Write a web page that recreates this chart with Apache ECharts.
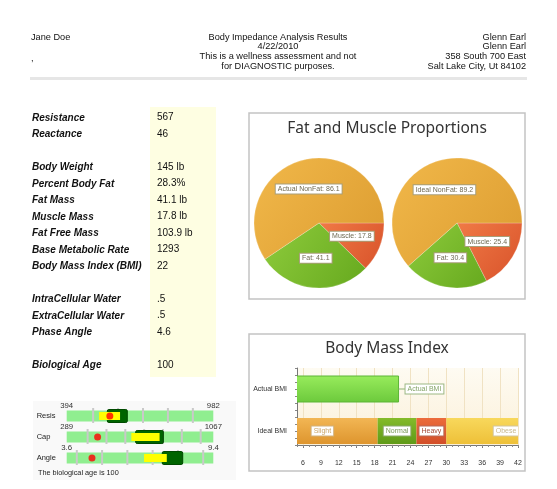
<!DOCTYPE html>
<html><head><meta charset="utf-8">
<script src="https://cdn.jsdelivr.net/npm/echarts@6/dist/echarts.min.js"></script>
<style>html,body{margin:0;padding:0;background:#fff}#c{width:557px;height:489px}</style>
</head><body><div id="c"></div>
<script>
// ---------- data ----------
const headerLeft = ['Jane Doe', ','];
const headerCenter = ['Body Impedance Analysis Results', '4/22/2010', 'This is a wellness assessment and not', 'for DIAGNOSTIC purposes.'];
const headerRight = ['Glenn Earl', 'Glenn Earl', '358 South 700 East', 'Salt Lake City, Ut 84102'];

const tableLabels = ['Resistance', 'Reactance', '', 'Body Weight', 'Percent Body Fat', 'Fat Mass', 'Muscle Mass', 'Fat Free Mass', 'Base Metabolic Rate', 'Body Mass Index (BMI)', '', 'IntraCellular Water', 'ExtraCellular Water', 'Phase Angle', '', 'Biological Age'];
const tableValues = ['567', '46', '', '145 lb', '28.3%', '41.1 lb', '17.8 lb', '103.9 lb', '1293', '22', '', '.5', '.5', '4.6', '', '100'];

const pieTitle = 'Fat and Muscle Proportions';
const actualNames = ['Muscle', 'Fat', 'Actual NonFat'];
const actualValues = [17.8, 41.1, 86.1];
const idealNames = ['Muscle', 'Fat', 'Ideal NonFat'];
const idealValues = [25.4, 30.4, 89.2];

const bmiTitle = 'Body Mass Index';
const bmiCategories = ['Actual BMI', 'Ideal BMI'];
const actualBmi = 22;
const idealRangeNames = ['Slight', 'Normal', 'Heavy', 'Obese'];
const idealRangeBounds = [0, 18.5, 25, 30, 50];
const bmiTickLabels = [6, 9, 12, 15, 18, 21, 24, 27, 30, 33, 36, 39, 42];

const gaugeNames = ['Resis', 'Cap', 'Angle'];
const gaugeMin = [394, 289, 3.6];
const gaugeMax = [982, 1067, 9.4];
const gaugeTicks = [[500, 600, 700, 800, 900], [400, 500, 600, 700, 800, 900, 1000], [4, 5, 6, 7, 8, 9]];
const gaugeTarget = [[557, 637], [655, 802], [7.38, 8.19]];
const gaugeYellow = [[524, 608], [632, 782], [6.66, 7.56]];
const gaugeActual = [567, 453, 4.6];
const bioAgeText = 'The biological age is 100';

// ---------- build ----------
const chart = echarts.init(document.getElementById('c'), null, {renderer: 'canvas'});
const LG = (c1, c2, x2, y2) => new echarts.graphic.LinearGradient(0, 0, x2 === undefined ? 0 : x2, y2 === undefined ? 1 : y2, [{offset: 0, color: c1}, {offset: 1, color: c2}]);
const SANS = 'Liberation Sans, Arial, sans-serif';
const UI = 'Noto Sans, Open Sans, sans-serif';

const graphic = [];
// header
graphic.push({type: 'rect', shape: {x: 30, y: 77, width: 497, height: 3}, style: {fill: '#e6e6e6'}, z: -5});
headerLeft.forEach((t, i) => graphic.push({type: 'text', x: 31, y: 37 + i * 21, style: {text: t, font: '9.2px ' + SANS, fill: '#111', verticalAlign: 'middle'}}));
headerCenter.forEach((t, i) => graphic.push({type: 'text', x: 278, y: 37 + i * 9.7, style: {text: t, font: '9.2px ' + SANS, fill: '#111', align: 'center', verticalAlign: 'middle'}}));
headerRight.forEach((t, i) => graphic.push({type: 'text', x: 526, y: 37 + i * 9.7, style: {text: t, font: '9.2px ' + SANS, fill: '#111', align: 'right', verticalAlign: 'middle'}}));
// table
graphic.push({type: 'rect', shape: {x: 150, y: 107, width: 66, height: 270}, style: {fill: '#fefee2'}, z: -5});
tableLabels.forEach((t, i) => {
  if (!t) return;
  graphic.push({type: 'text', x: 32, y: 118 + i * 16.5, style: {text: t, font: 'italic bold 10px ' + SANS, fill: '#111', verticalAlign: 'middle'}});
  graphic.push({type: 'text', x: 157, y: 117.5 + i * 16.5, style: {text: tableValues[i], font: '10px ' + SANS, fill: '#111', verticalAlign: 'middle'}});
});
// panels
graphic.push({type: 'rect', shape: {x: 249, y: 113, width: 276, height: 186}, style: {fill: '#fff', stroke: '#c3c3c3', lineWidth: 1.5}, z: -5});
graphic.push({type: 'text', x: 387, y: 129, style: {text: pieTitle, font: '15.5px ' + UI, fill: '#333', align: 'center', verticalAlign: 'middle'}});
graphic.push({type: 'rect', shape: {x: 249, y: 334, width: 276, height: 137}, style: {fill: '#fff', stroke: '#c3c3c3', lineWidth: 1.5}, z: -5});
graphic.push({type: 'text', x: 387, y: 349, style: {text: bmiTitle, font: '15.5px ' + UI, fill: '#333', align: 'center', verticalAlign: 'middle'}});
graphic.push({type: 'rect', shape: {x: 33, y: 401, width: 203, height: 79}, style: {fill: '#f9f9f9'}, z: -5});
graphic.push({type: 'text', x: 38, y: 473, style: {text: bioAgeText, font: '7.3px ' + SANS, fill: '#222', verticalAlign: 'middle'}});

const grid = [], xAxis = [], yAxis = [], series = [];

// ---- pies ----
const pieColors = {
  'Muscle': LG('#f07a46', '#d8522a', 1, 1),
  'Fat': LG('#8ecb3c', '#66a91e', 1, 1),
  'NonFat': LG('#f1b84a', '#dc9c30', 1, 1)
};
const pieLabel = {show: true, position: 'inside', formatter: '{b}: {c}', fontSize: 7, fontFamily: SANS, color: '#6f6a52',
  backgroundColor: '#fff', borderColor: '#a89e78', borderWidth: 1, padding: [1, 2, 1, 2]};
function pieSeries(names, values, cx) {
  return {type: 'pie', center: [cx, 223], radius: 65, startAngle: 0, clockwise: true, silent: true,
    label: pieLabel, labelLine: {show: false}, emphasis: {disabled: true},
    itemStyle: {borderColor: 'rgba(255,255,255,0.35)', borderWidth: 0.6},
    data: names.map((n, i) => ({name: n, value: values[i], itemStyle: {color: pieColors[n.indexOf('NonFat') >= 0 ? 'NonFat' : n]}}))};
}
series.push(pieSeries(actualNames, actualValues, 319));
series.push(pieSeries(idealNames, idealValues, 457));

// ---- BMI chart ----
const bmiRowPos = [8, 2];
grid.push({left: 297, top: 368, width: 221, height: 77, show: true, borderWidth: 0,
  backgroundColor: LG('#fefbf2', '#fbf0d9')});
xAxis.push({type: 'value', gridIndex: 0, min: 5, max: 42, position: 'bottom',
  axisLine: {show: true, lineStyle: {color: '#777', width: 1}},
  axisTick: {show: true, customValues: bmiTickLabels, length: 3, lineStyle: {color: '#777'}},
  axisLabel: {customValues: bmiTickLabels, fontSize: 7, fontFamily: SANS, color: '#333', margin: 15},
  splitLine: {show: true, lineStyle: {color: '#f0e2c3', width: 1}}});
xAxis.push({type: 'value', gridIndex: 0, min: 5, max: 42, interval: 1, position: 'bottom',
  axisLine: {show: false}, axisTick: {show: true, length: 2, lineStyle: {color: '#888'}},
  axisLabel: {show: false}, splitLine: {show: false}});
yAxis.push({type: 'value', gridIndex: 0, min: 0, max: 11, interval: 1,
  axisLine: {show: true, lineStyle: {color: '#777'}},
  axisTick: {show: true, length: 2, lineStyle: {color: '#888'}},
  axisLabel: {customValues: bmiRowPos, formatter: v => bmiCategories[bmiRowPos.indexOf(v)], fontSize: 7, fontFamily: SANS, color: '#333', margin: 10},
  splitLine: {show: false}});

series.push({type: 'custom', xAxisIndex: 0, yAxisIndex: 0, clip: true, z: 3, silent: true,
  data: [[0, actualBmi, bmiRowPos[0]]],
  renderItem: (p, api) => {
    const y = api.value(2);
    const a = api.coord([api.value(0), y]);
    const b = api.coord([api.value(1), y]);
    const h = 26;
    return {type: 'group', children: [
      {type: 'rect', shape: {x: a[0], y: a[1] - h / 2, width: b[0] - a[0], height: h},
        style: {fill: LG('#98ec5c', '#6cc93c'), stroke: '#5cb537', lineWidth: 1}},
      {type: 'line', shape: {x1: b[0], y1: b[1], x2: b[0] + 7, y2: b[1]}, style: {stroke: '#8fb274', lineWidth: 1}},
      {type: 'text', x: b[0] + 7, y: b[1], style: {text: bmiCategories[0], font: '7px ' + SANS, fill: '#84a468',
        align: 'left', verticalAlign: 'middle', backgroundColor: '#fff', borderColor: '#9cb884', borderWidth: 1, padding: [1, 2, 1, 2]}}
    ]};
  }});

const idealFill = [LG('#f2b654', '#de952e'), LG('#84bb2a', '#5f9a18'), LG('#ec6c3c', '#d24e28'), LG('#f8d85c', '#eec038')];
const idealText = ['#caa66a', '#7b9a58', '#a64c3a', '#c9b98e'];
const idealBorder = ['#d2b27c', '#8caa6a', '#b86a58', '#d4c69c'];
series.push({type: 'custom', xAxisIndex: 0, yAxisIndex: 0, clip: true, z: 3, silent: true,
  data: idealRangeNames.map((n, i) => [idealRangeBounds[i], idealRangeBounds[i + 1], i]),
  renderItem: (p, api) => {
    const i = api.value(2);
    const y = bmiRowPos[1];
    const a = api.coord([api.value(0), y]);
    const b = api.coord([api.value(1), y]);
    const m = api.coord([(api.value(0) + api.value(1)) / 2, y]);
    const h = 26;
    return {type: 'group', children: [
      {type: 'rect', shape: {x: a[0], y: a[1] - h / 2, width: b[0] - a[0], height: h}, style: {fill: idealFill[i]}},
      {type: 'text', x: m[0], y: m[1], style: {text: idealRangeNames[i], font: '7px ' + SANS, fill: idealText[i],
        align: 'center', verticalAlign: 'middle', backgroundColor: '#fff', borderColor: idealBorder[i], borderWidth: 1, padding: [1, 2, 1, 2]}}
    ]};
  }});

// ---- gauges ----
const gaugeTop = [406, 427, 448];
function rectRender(h, fill, stroke, r) {
  return (p, api) => {
    const a = api.coord([api.value(0), 0]);
    const b = api.coord([api.value(1), 0]);
    return {type: 'rect', shape: {x: a[0], y: a[1] - h / 2, width: b[0] - a[0], height: h, r: r || 0},
      style: {fill: fill, stroke: stroke || null, lineWidth: stroke ? 1 : 0}};
  };
}
gaugeNames.forEach((name, r) => {
  const gi = grid.length;
  grid.push({left: 66.7, width: 146.6, top: gaugeTop[r], height: 20});
  const xi = xAxis.length, yi = yAxis.length;
  xAxis.push({type: 'value', gridIndex: gi, min: gaugeMin[r], max: gaugeMax[r], position: 'top',
    axisLine: {show: false}, axisTick: {show: false}, splitLine: {show: false},
    axisLabel: {customValues: [gaugeMin[r], gaugeMax[r]], formatter: v => String(v), fontSize: 7.8, fontFamily: SANS, color: '#333', margin: 0, verticalAlign: 'middle'}});
  yAxis.push({type: 'category', gridIndex: gi, data: [name],
    axisLine: {show: false}, axisTick: {show: false}, splitLine: {show: false},
    axisLabel: {align: 'left', margin: 30, fontSize: 7.5, fontFamily: SANS, color: '#222'}});
  const base = {type: 'custom', xAxisIndex: xi, yAxisIndex: yi, silent: true};
  series.push(Object.assign({}, base, {z: 2, data: [[gaugeMin[r], gaugeMax[r]]], renderItem: rectRender(11, '#90ee90')}));
  series.push(Object.assign({}, base, {z: 3, data: gaugeTicks[r].map(v => [v]),
    renderItem: (p, api) => {
      const c = api.coord([api.value(0), 0]);
      return {type: 'line', shape: {x1: c[0], y1: c[1] - 8, x2: c[0], y2: c[1] + 7}, style: {stroke: '#c9c9c9', lineWidth: 2}};
    }}));
  series.push(Object.assign({}, base, {z: 4, data: [gaugeTarget[r]], renderItem: rectRender(13, '#006400', '#004a00', 1.5)}));
  series.push(Object.assign({}, base, {z: 5, data: [gaugeYellow[r]], renderItem: rectRender(8, '#ffff00')}));
  series.push({type: 'scatter', xAxisIndex: xi, yAxisIndex: yi, z: 6, silent: true, symbolSize: 7,
    itemStyle: {color: '#ff0000'}, data: [[gaugeActual[r], 0]]});
});

chart.setOption({animation: false, backgroundColor: '#fff', graphic: graphic, grid: grid, xAxis: xAxis, yAxis: yAxis, series: series});
</script></body></html>
